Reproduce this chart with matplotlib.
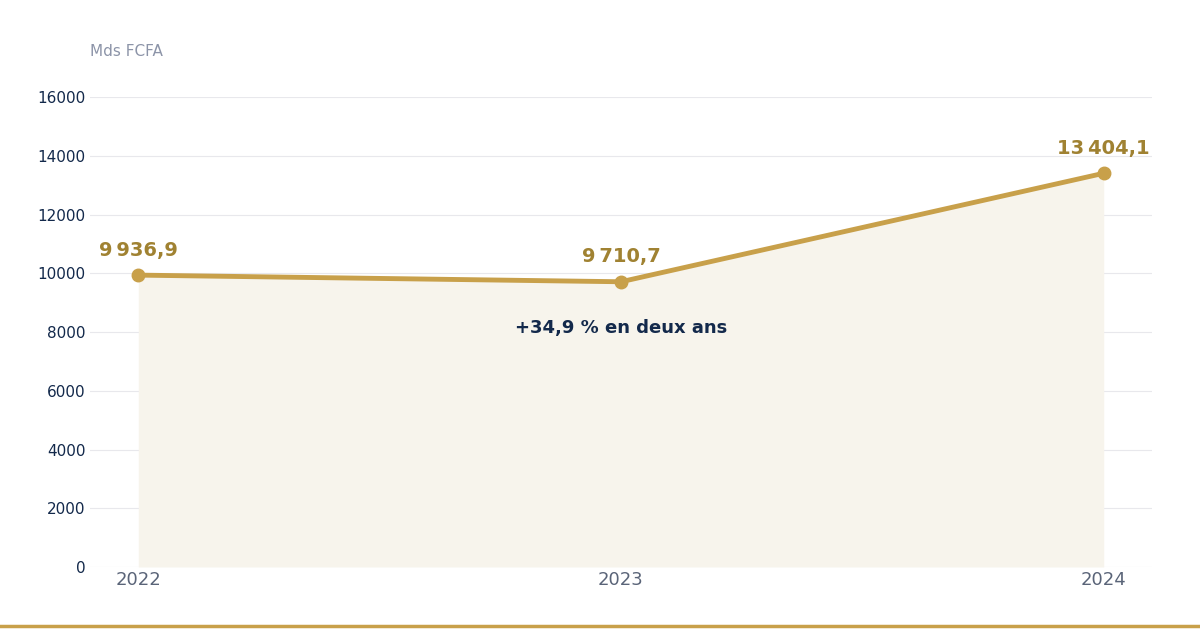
import matplotlib
matplotlib.use("Agg")
import matplotlib.pyplot as plt
from matplotlib.lines import Line2D

years = [2022, 2023, 2024]
values = [9936.9, 9710.7, 13404.1]
value_labels = ["9\u202f936,9", "9\u202f710,7", "13\u202f404,1"]
yticks = [0, 2000, 4000, 6000, 8000, 10000, 12000, 14000, 16000]
unit_label = "Mds FCFA"
note_text = "+34,9 % en deux ans"
note_y = 8130

gold = "#c8a04a"
label_gold = "#a08232"
navy = "#13294b"

fig = plt.figure(figsize=(12, 6.3), dpi=100)
ax = fig.add_axes([0.075, 0.1, 0.885, 0.746])

ax.fill_between(years, values, 0, color="#f7f4ec", zorder=1, linewidth=0)
ax.plot(years, values, color=gold, lw=3.5, marker="o", markersize=9, zorder=3)

for x, v, lab in zip(years, values, value_labels):
    ax.annotate(lab, (x, v), xytext=(0, 18), textcoords="offset points",
                ha="center", va="center", fontsize=14, fontweight="bold",
                color=label_gold, annotation_clip=False, zorder=4)

ax.text(2023, note_y, note_text, ha="center", va="center", fontsize=13,
        fontweight="bold", color=navy, zorder=4)

ax.set_xlim(2021.9, 2024.1)
ax.set_ylim(0, 16000)
ax.set_yticks(yticks)
ax.set_yticklabels([str(t) for t in yticks])
ax.set_xticks(years)
ax.set_xticklabels([str(y) for y in years])
ax.grid(axis="y", color="#e8e8ec", lw=0.8, zorder=0)
ax.set_axisbelow(True)
for s in ax.spines.values():
    s.set_visible(False)
ax.tick_params(axis="y", length=0, pad=3, labelsize=11, labelcolor=navy)
ax.tick_params(axis="x", length=0, pad=3, labelsize=13, labelcolor="#5a6478")

fig.text(90 / 1200, 1 - 51 / 630, unit_label, ha="left", va="center",
         fontsize=11, color="#8c94a8")

fig.add_artist(Line2D([0, 1], [1 - 626 / 630] * 2, color=gold, lw=2.5,
                      transform=fig.transFigure))

fig.savefig("out.png", dpi=100)
